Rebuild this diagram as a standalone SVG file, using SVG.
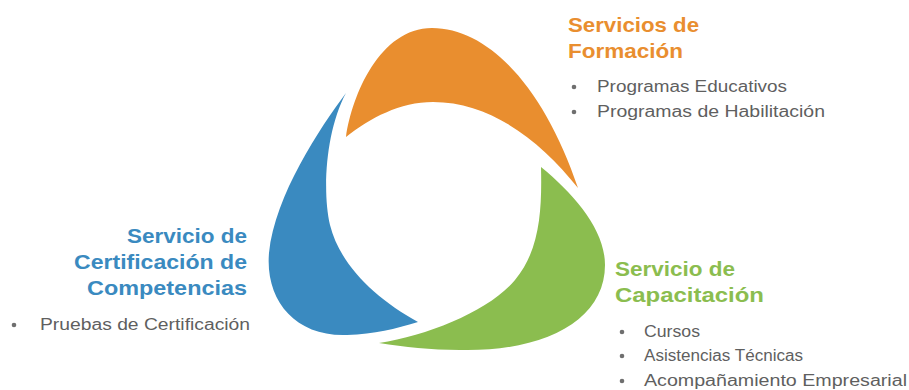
<svg xmlns="http://www.w3.org/2000/svg" width="909" height="390" viewBox="0 0 909 390">
<style>
.h{font-family:"Liberation Sans",Arial,sans-serif;font-size:21px;font-weight:bold}
.b{font-family:"Liberation Sans",Arial,sans-serif;font-size:16px;fill:#5f5f5f}
.dot{fill:#6f6f6f}
.or{fill:#E98E2F}.bl{fill:#3A8AC0}.gr{fill:#8BBD4F}
</style>
<rect width="909" height="390" fill="#ffffff"/>
<g id="formacion">
<path class="or" d="M346,137 C352,95 380,28 432,28 C490,28 545,90 578,188 C540,140 490,102 433,102 C400,102 370,118 346,137 Z"/>
<text class="h or" x="568" y="32" textLength="131" lengthAdjust="spacingAndGlyphs">Servicios de</text>
<text class="h or" x="568" y="58" textLength="115" lengthAdjust="spacingAndGlyphs">Formación</text>
<circle class="dot" cx="574" cy="87" r="2.3"/>
<text class="b" x="597" y="92" textLength="190" lengthAdjust="spacingAndGlyphs">Programas Educativos</text>
<circle class="dot" cx="574" cy="112" r="2.3"/>
<text class="b" x="597" y="117" textLength="228" lengthAdjust="spacingAndGlyphs">Programas de Habilitación</text>
</g>
<g id="certificacion">
<path class="bl" d="M346,93 C320,128 275,195 269,253 C265,300 295,337 347,335 C375,334 395,329 418,322 C375,298 340,265 330,225 C322,190 326,130 346,93 Z"/>
<text class="h bl" x="247" y="243" text-anchor="end" textLength="120" lengthAdjust="spacingAndGlyphs">Servicio de</text>
<text class="h bl" x="247" y="269" text-anchor="end" textLength="173" lengthAdjust="spacingAndGlyphs">Certificación de</text>
<text class="h bl" x="247" y="295" text-anchor="end" textLength="160" lengthAdjust="spacingAndGlyphs">Competencias</text>
<circle class="dot" cx="14" cy="325" r="2.3"/>
<text class="b" x="40" y="330" textLength="210" lengthAdjust="spacingAndGlyphs">Pruebas de Certificación</text>
</g>
<g id="capacitacion">
<path class="gr" d="M541,167 C575,195 605,230 605,265 C605,320 545,352 460,350 C430,350 405,347 379,343 C430,335 490,310 515,280 C540,250 542,210 541,167 Z"/>
<text class="h gr" x="615" y="276" textLength="120" lengthAdjust="spacingAndGlyphs">Servicio de</text>
<text class="h gr" x="615" y="302" textLength="149" lengthAdjust="spacingAndGlyphs">Capacitación</text>
<circle class="dot" cx="622" cy="332" r="2.3"/>
<text class="b" x="644" y="337" textLength="56" lengthAdjust="spacingAndGlyphs">Cursos</text>
<circle class="dot" cx="622" cy="356" r="2.3"/>
<text class="b" x="644" y="361" textLength="159" lengthAdjust="spacingAndGlyphs">Asistencias Técnicas</text>
<circle class="dot" cx="622" cy="381" r="2.3"/>
<text class="b" x="644" y="386" textLength="263" lengthAdjust="spacingAndGlyphs">Acompañamiento Empresarial</text>
</g>
<g id="connectors"></g>
</svg>
